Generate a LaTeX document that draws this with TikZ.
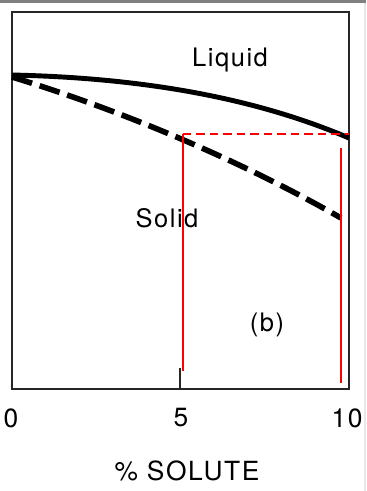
\documentclass[tikz,border=0pt]{standalone}
\usepackage{fontspec}
\setmainfont{TeX Gyre Heros}[LetterSpace=6]
\usepackage{xcolor}
\usepackage{tikz}
\usetikzlibrary{positioning, calc}
\definecolor{framegray}{RGB}{128,128,128}
\definecolor{edgegray}{RGB}{232,232,232}
\definecolor{markred}{RGB}{255,0,0}

\begin{document}
\begin{tikzpicture}[x=0.02cm, y=-0.02cm,
  axis/.style={line width=0.7pt, black!85},
  liq/.style={line width=2.8pt, black},
  sol/.style={line width=3.2pt, black, dash pattern=on 0.42cm off 0.16cm},
  redline/.style={line width=1.3pt, markred},
  reddash/.style={line width=1.3pt, markred, dash pattern=on 0.17cm off 0.1cm},
  lbl/.style={font=\fontsize{14.5}{17}\selectfont, inner sep=0pt},
  ticklbl/.style={font=\fontsize{15}{18}\selectfont, inner sep=0pt},
]
  % page and frame
  \fill[white] (0,0) rectangle (366,491);
  \useasboundingbox (0,0) rectangle (366,491);
  \fill[framegray] (0,0) rectangle (366,2.5);
  \fill[edgegray] (363.5,2.5) rectangle (366,491);

  % axes box
  \coordinate (tl) at (12,12);
  \coordinate (br) at (349,389);
  \draw[axis] (tl) rectangle (br);
  \draw[axis] (180,389) -- (180,368);

  % liquidus and solidus
  \draw[liq] (12,75) .. controls (150,78) and (260,100) .. (349,138);
  \draw[sol] (12,77) .. controls (120,110) and (240,160) .. (341,218);

  % red marks
  \coordinate (ra) at (183,134);
  \coordinate (rb) at (349,134);
  \coordinate (rc) at (183,371);
  \coordinate (rd) at (341,148);
  \coordinate (re) at (341,383);
  \draw[reddash] (ra) -- (rb);
  \draw[redline] (ra) -- (rc);
  \draw[redline] (rd) -- (re);

  % labels
  \node[lbl] (liquid) at (230,60) {Liquid};
  \node[lbl] (solid) at (167,218) {Solid};
  \node[lbl] (caseb) at (267,325) {(b)};
  \node[ticklbl] (t0) at (11,418) {0};
  \node[ticklbl] (t5) at (181,418) {5};
  \node[ticklbl] (t10) at (347,418) {10};
  \node[ticklbl] (xlab) at (187,471) {\% SOLUTE};
\end{tikzpicture}
\end{document}
